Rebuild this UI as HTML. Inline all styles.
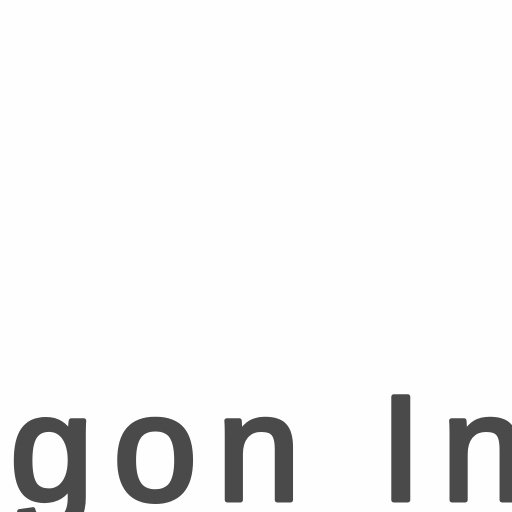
<!DOCTYPE html>
<html>
<head>
<meta charset="utf-8">
<style>
  html, body { margin: 0; padding: 0; background: #fefefe; }
  svg { display: block; }
</style>
</head>
<body>
<svg width="512" height="512" viewBox="0 0 512 512">
  <rect width="512" height="512" fill="#fefefe"/>
  <text x="10" y="500" font-family="'Liberation Sans', sans-serif" font-size="150" fill="#4a4a4a" stroke="#4a4a4a" stroke-width="5" stroke-linejoin="round" letter-spacing="20" word-spacing="-2">gon In</text>
</svg>
</body>
</html>
